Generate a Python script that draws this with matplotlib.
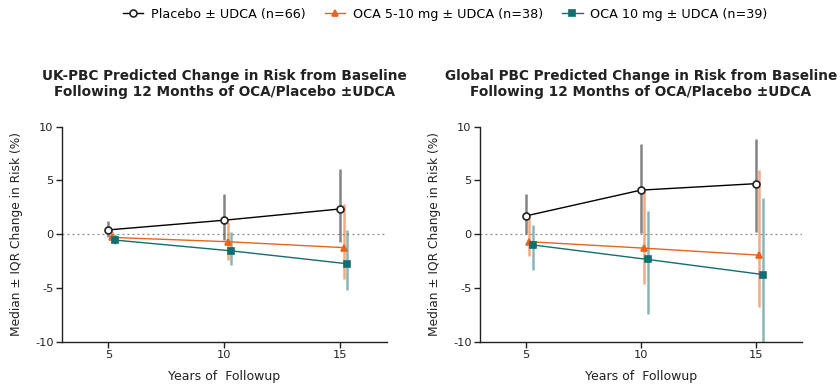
import matplotlib
matplotlib.use("Agg")
import matplotlib.pyplot as plt
import numpy as np

plt.rcParams['font.family'] = ['DejaVu Sans']
plt.rcParams['axes.unicode_minus'] = False

years = [5, 10, 15]
series_names = ["Placebo \u00b1 UDCA (n=66)", "OCA 5-10 mg \u00b1 UDCA (n=38)", "OCA 10 mg \u00b1 UDCA (n=39)"]

# UK-PBC panel: median, lower IQR, upper IQR
uk_placebo_med = [0.4, 1.3, 2.35]
uk_placebo_lo = [-0.3, -0.5, -0.7]
uk_placebo_hi = [1.2, 3.7, 6.1]
uk_oca510_med = [-0.3, -0.7, -1.25]
uk_oca510_lo = [-0.8, -2.4, -4.2]
uk_oca510_hi = [0.3, 1.1, 2.8]
uk_oca10_med = [-0.55, -1.55, -2.75]
uk_oca10_lo = [-0.9, -2.9, -5.2]
uk_oca10_hi = [0.0, 0.2, 0.35]

# Global PBC panel
gl_placebo_med = [1.7, 4.1, 4.7]
gl_placebo_lo = [0.05, 0.1, 0.2]
gl_placebo_hi = [3.7, 8.35, 8.85]
gl_oca510_med = [-0.7, -1.3, -1.95]
gl_oca510_lo = [-2.0, -4.6, -6.8]
gl_oca510_hi = [1.5, 4.1, 6.0]
gl_oca10_med = [-1.0, -2.35, -3.75]
gl_oca10_lo = [-3.3, -7.4, -10.5]
gl_oca10_hi = [0.9, 2.2, 3.4]

titles = ["UK-PBC Predicted Change in Risk from Baseline\nFollowing 12 Months of OCA/Placebo \u00b1UDCA",
          "Global PBC Predicted Change in Risk from Baseline\nFollowing 12 Months of OCA/Placebo \u00b1UDCA"]

ORANGE = "#E8641B"
TEAL = "#136E70"
TXT = "#222222"

fig = plt.figure(figsize=(8.4, 3.85), dpi=100)
ax1 = fig.add_axes([0.0738, 0.1125, 0.3866, 0.5584])
ax2 = fig.add_axes([0.5714, 0.1125, 0.3830, 0.5584])

panels = [
    (ax1, [(uk_placebo_med, uk_placebo_lo, uk_placebo_hi),
           (uk_oca510_med, uk_oca510_lo, uk_oca510_hi),
           (uk_oca10_med, uk_oca10_lo, uk_oca10_hi)]),
    (ax2, [(gl_placebo_med, gl_placebo_lo, gl_placebo_hi),
           (gl_oca510_med, gl_oca510_lo, gl_oca510_hi),
           (gl_oca10_med, gl_oca10_lo, gl_oca10_hi)]),
]

styles = [
    dict(color="black", ecolor="#5a5a5a", marker="o", mfc="white", mec="#222222", ms=5.0, ealpha=0.75, off=0.0),
    dict(color=ORANGE, ecolor=ORANGE, marker="^", mfc=ORANGE, mec=ORANGE, ms=5.0, ealpha=0.55, off=0.15),
    dict(color=TEAL, ecolor=TEAL, marker="s", mfc=TEAL, mec=TEAL, ms=5.0, ealpha=0.5, off=0.3),
]

handles = []
for idx, (ax, data) in enumerate(panels):
    ax.axhline(0, color="#888888", lw=0.9, ls=(0, (1.5, 2.5)), zorder=0)
    for (med, lo, hi), st, name in zip(data, styles, series_names):
        xs = np.array(years) + st["off"]
        med = np.array(med); lo = np.array(lo); hi = np.array(hi)
        ax.vlines(xs, lo, hi, color=st["ecolor"], lw=1.8, alpha=st["ealpha"], zorder=2)
        h, = ax.plot(xs, med, color=st["color"], lw=1.0, marker=st["marker"], mfc=st["mfc"],
                     mec=st["mec"], ms=st["ms"], mew=1.2, zorder=3, label=name)
        if idx == 0:
            handles.append(h)
    ax.set_xlim(3, 17)
    ax.set_ylim(-10, 10)
    ax.set_xticks([5, 10, 15])
    ax.set_yticks([-10, -5, 0, 5, 10])
    ax.spines['top'].set_visible(False)
    ax.spines['right'].set_visible(False)
    for s in ['left', 'bottom']:
        ax.spines[s].set_linewidth(1.0)
        ax.spines[s].set_color(TXT)
    ax.tick_params(direction='out', length=4, width=1.0, labelsize=8.2, colors=TXT, pad=2)
    ax.set_xlabel("Years of  Followup", fontsize=9, labelpad=7, color=TXT)
    ax.set_ylabel("Median \u00b1 IQR Change in Risk (%)", fontsize=8.8, labelpad=9, color=TXT)
    ax.set_title(titles[idx], fontsize=9.8, fontweight='bold', pad=22, color=TXT, linespacing=1.2)

fig.legend(handles=handles, labels=series_names, loc='upper center', bbox_to_anchor=(0.53, 1.01),
           ncol=3, frameon=False, fontsize=9.2, handlelength=1.6, columnspacing=1.5, handletextpad=0.6)

fig.savefig("out.png", dpi=100)
